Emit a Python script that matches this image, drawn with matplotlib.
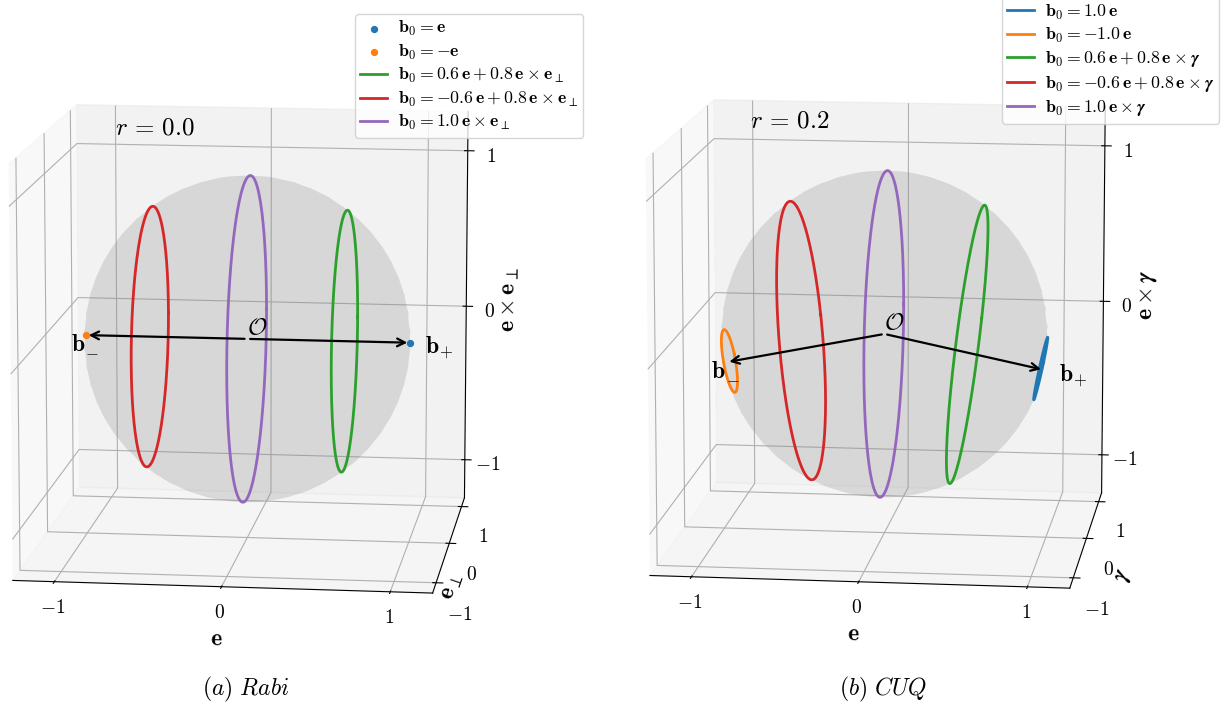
import numpy as np
import matplotlib
matplotlib.use("Agg")
import matplotlib.pyplot as plt
from matplotlib.patches import FancyArrowPatch
from mpl_toolkits.mplot3d import proj3d

plt.rcParams['mathtext.fontset'] = 'cm'
plt.rcParams['font.family'] = 'serif'
plt.rcParams['font.serif'] = ['cmr10', 'DejaVu Serif']
plt.rcParams['axes.unicode_minus'] = False

# data
r_values = [0.0, 0.2]
panel_titles = [r'$\mathit{(a)\ Rabi}$', r'$\mathit{(b)\ CUQ}$']
perp_names = [r'\mathbf{e}_\perp', r'\boldsymbol{\gamma}']
b0_e = [1.0, -1.0, 0.6, -0.6, 0.0]       # component along e
b0_ex = [0.0, 0.0, 0.8, 0.8, 1.0]        # component along e x (e_perp / gamma)
curve_colors = ['C0', 'C1', 'C2', 'C3', 'C4']
tick_vals = [-1, 0, 1]
tick_labels = [r'$-1$', r'$0$', r'$1$']


class Arrow3D(FancyArrowPatch):
    def __init__(self, xs, ys, zs, *args, **kwargs):
        super().__init__((0, 0), (0, 0), *args, **kwargs)
        self._verts3d = xs, ys, zs

    def do_3d_projection(self, renderer=None):
        xs3d, ys3d, zs3d = self._verts3d
        xs, ys, zs = proj3d.proj_transform(xs3d, ys3d, zs3d, self.axes.M)
        self.set_positions((xs[0], ys[0]), (xs[1], ys[1]))
        return np.min(zs)


def orbit(a, c, r, n=400):
    # circle on the unit sphere through b0=(a,0,c); its plane holds the line x=0, z=-1/r
    k = a * r / (1 + c * r)
    m = a / (1 + c * r)
    nv = np.array([1.0, 0.0, -k]) / np.sqrt(1 + k**2)
    d = m / np.sqrt(1 + k**2)
    rho = np.sqrt(max(1 - d**2, 0))
    cen = d * nv
    u = np.array([0.0, 1.0, 0.0])
    v = np.array([-nv[2], 0.0, nv[0]])
    t = np.linspace(0, 2 * np.pi, n)
    return cen[:, None] + rho * (np.outer(u, np.cos(t)) + np.outer(v, np.sin(t)))


def label(i, a, c, perp, r):
    s = r'$\mathbf{b}_0='
    if i == 0 and r == 0:
        return s + r'\mathbf{e}$'
    if i == 1 and r == 0:
        return s + r'-\mathbf{e}$'
    parts = []
    if a != 0:
        parts.append(r'%.1f\,\mathbf{e}' % a)
    if c != 0:
        parts.append(r'%.1f\,\mathbf{e}\times %s' % (c, perp))
    return s + '+'.join(parts) + '$'


fig = plt.figure(figsize=(12.3, 7.04), dpi=100)
rects = [[-0.03, 0.048, 0.45, 0.92], [0.488, 0.055, 0.45, 0.92]]
legend_anchor = [(355 / 1230, 1 - 14 / 704), (1002 / 1230, 1.004)]
rtext_pos = [(0.275, 0.893), (0.271, 0.897)]

for p in range(2):
    r = r_values[p]
    perp = perp_names[p]
    ax = fig.add_axes(rects[p], projection='3d', computed_zorder=False)
    ax.view_init(elev=11, azim=-83)
    ax.set_proj_type('persp', focal_length=1.5)
    ax.set_box_aspect((1, 1, 1), zoom=1.24)

    # sphere
    uu, vv = np.mgrid[0:2 * np.pi:60j, 0:np.pi:30j]
    ax.plot_surface(np.cos(uu) * np.sin(vv), np.sin(uu) * np.sin(vv), np.cos(vv),
                    color='grey', alpha=0.12, linewidth=0, shade=False, zorder=0)

    handles = []
    for i in range(5):
        a, c = b0_e[i], b0_ex[i]
        lab = label(i, a, c, perp, r)
        if r == 0 and c == 0:
            h = ax.scatter([a], [0], [c], color=curve_colors[i], s=18, zorder=5,
                           depthshade=False, label=lab)
        else:
            pts = orbit(a, c, r)
            h, = ax.plot(pts[0], pts[1], pts[2], color=curve_colors[i], lw=2, zorder=3, label=lab)
        handles.append(h)

    # fixed points
    bp = np.array([np.sqrt(1 - r**2), 0, -r])
    bm = np.array([-np.sqrt(1 - r**2), 0, -r])
    for b in (bp, bm):
        ax.add_artist(Arrow3D([0, b[0]], [0, b[1]], [0, b[2]], arrowstyle='->',
                              mutation_scale=14, lw=1.6, color='k', zorder=6))
    ax.text(bp[0] + 0.18, 0, bp[2] - 0.03, r'$\mathbf{b}_{+}$', fontsize=17, ha='center', va='center', zorder=7)
    # a lone minus as subscript gets dropped by mathtext, so draw it on its own
    ax.text(bm[0] - 0.05, 0, bm[2] - 0.065, r'$\mathbf{b}$', fontsize=17, ha='center', va='center', zorder=7)
    ax.text(bm[0] + 0.035, 0, bm[2] - 0.11, r'$-$', fontsize=12, ha='center', va='center', zorder=7)
    ax.text(0.06, 0, 0.07, r'$\mathcal{O}$', fontsize=17, ha='center', va='center', zorder=7)

    ax.set_xlim(-1.25, 1.25)
    ax.set_ylim(-1.25, 1.25)
    ax.set_zlim(-1.25, 1.25)
    ax.set_xticks(tick_vals, labels=tick_labels, fontsize=14)
    ax.set_yticks(tick_vals, labels=tick_labels, fontsize=14)
    ax.set_zticks(tick_vals, labels=tick_labels, fontsize=14)
    ax.tick_params(axis='x', pad=-1)
    ax.set_xlabel(r'$\mathbf{e}$', fontsize=17, labelpad=0)
    if p == 1:
        ax.set_ylabel(r'$%s$' % perp, fontsize=17, labelpad=-2)
    else:
        fig.text(452 / 1230, 1 - 586 / 704, r'$%s$' % perp, fontsize=17, rotation=71,
                 ha='center', va='center')
    ax.set_zlabel(r'$\mathbf{e}\times %s$' % perp, fontsize=17, labelpad=1)

    ax.text2D(rtext_pos[p][0], rtext_pos[p][1], r'$r\,=\,%.1f$' % r, transform=ax.transAxes,
              fontsize=18, va='center')
    fig.legend(handles=handles, loc='upper left', fontsize=12.8, labelspacing=0.25,
               handlelength=1.5, handletextpad=0.6, borderpad=0.3,
               bbox_to_anchor=legend_anchor[p], borderaxespad=0)

    fig.text(rects[p][0] + 0.23, 0.012, panel_titles[p], fontsize=17, ha='center')

fig.savefig('out.png', dpi=100)
